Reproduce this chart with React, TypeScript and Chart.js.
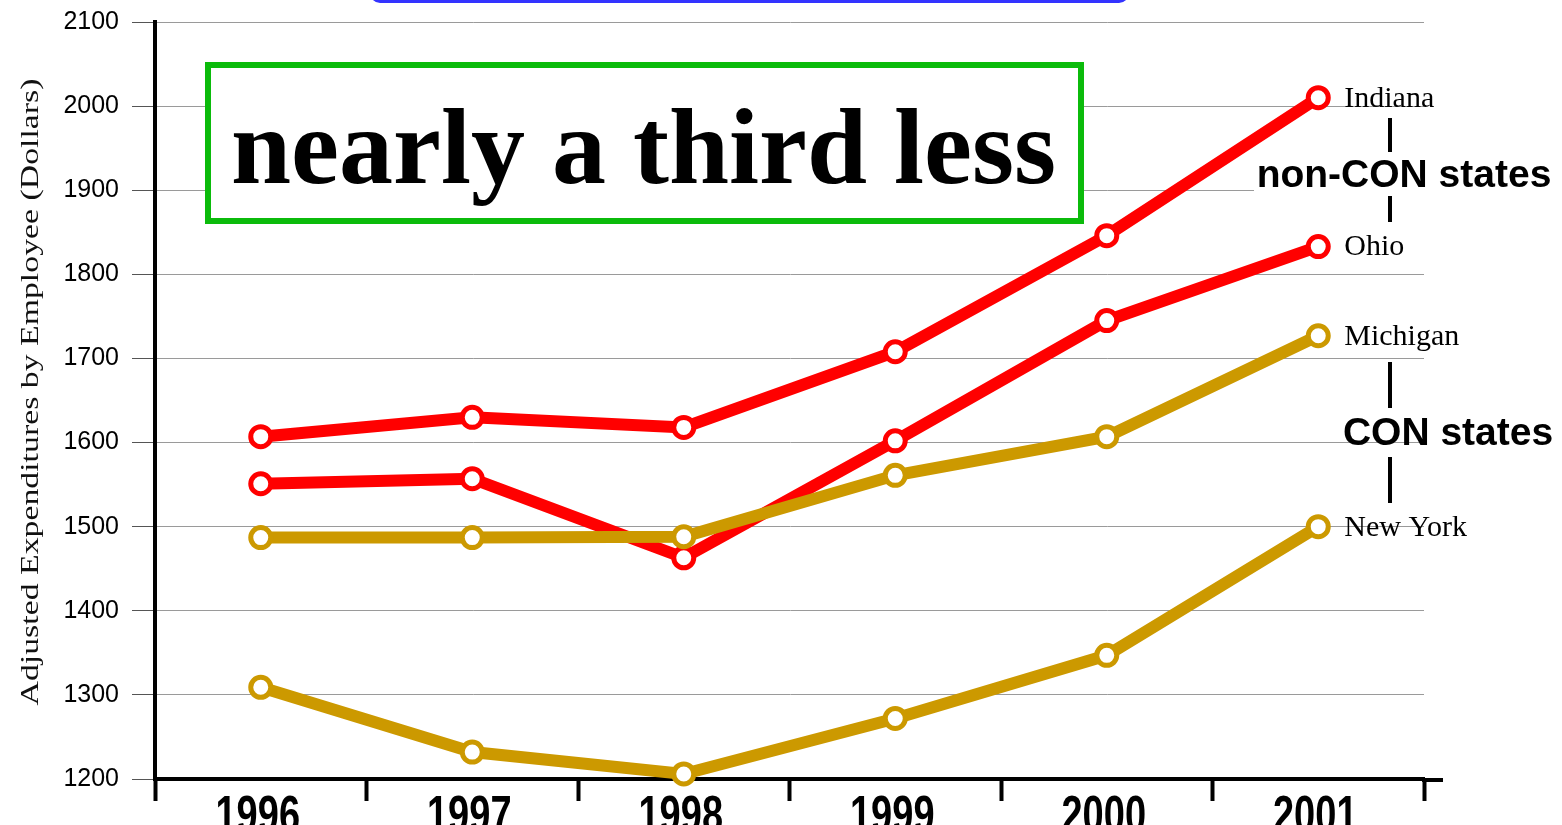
import React, { useEffect, useRef } from "react";
import { Chart, registerables } from "chart.js";

Chart.register(...registerables);

const years = ["1996", "1997", "1998", "1999", "2000", "2001"];
const indiana = [1607, 1630, 1618, 1708, 1846, 2010];
const ohio = [1551, 1557, 1463, 1602, 1745, 1833];
const michigan = [1487, 1487, 1488, 1561, 1607, 1727];
const newYork = [1309, 1232, 1206, 1272, 1347, 1500];
const seriesNames = ["Indiana", "Ohio", "Michigan", "New York"];
const yMin = 1200;
const yMax = 2100;
const yStep = 100;
const headline = "nearly a third less";
const yTitle = "Adjusted Expenditures by Employee (Dollars)";
const groupNonCon = "non-CON states";
const groupCon = "CON states";

const RED = "#FF0000";
const GOLD = "#CC9900";

const decorPlugin = {
  id: "decor",
  beforeDraw(chart: any) {
    const { ctx } = chart;
    ctx.save();
    ctx.fillStyle = "#ffffff";
    ctx.fillRect(0, 0, chart.width, chart.height);
    ctx.restore();
  },
  afterDatasetsDraw(chart: any) {
    const { ctx, scales } = chart;
    const x = scales.x;
    const y = scales.y;
    ctx.save();

    // blue box bottom edge at top
    ctx.strokeStyle = "#3333FF";
    ctx.lineWidth = 4;
    ctx.beginPath();
    (ctx as any).roundRect(372, -60, 755, 61, 8);
    ctx.stroke();

    // green headline box
    ctx.fillStyle = "#ffffff";
    ctx.fillRect(208, 65, 873, 156);
    ctx.strokeStyle = "#0BBB0B";
    ctx.lineWidth = 6;
    ctx.strokeRect(208, 65, 873, 156);
    ctx.fillStyle = "#000";
    ctx.font = "bold 108px 'Liberation Serif', 'Times New Roman', serif";
    ctx.textAlign = "left";
    ctx.textBaseline = "alphabetic";
    ctx.fillText(headline, 231, 183);

    // axis extension on the right
    ctx.strokeStyle = "#000";
    ctx.lineWidth = 4;
    ctx.beginPath();
    ctx.moveTo(chart.chartArea.right - 2, y.getPixelForValue(yMin) + 1);
    ctx.lineTo(1443, y.getPixelForValue(yMin) + 1);
    ctx.stroke();

    // x labels (condensed look)
    ctx.fillStyle = "#000";
    ctx.font = "bold 38px 'Liberation Sans', Arial, sans-serif";
    ctx.textAlign = "center";
    ctx.textBaseline = "alphabetic";
    years.forEach((yr, i) => {
      const px = x.getPixelForValue(i);
      ctx.save();
      ctx.translate(px - 3, 832);
      ctx.scale(1, 1.35);
      ctx.fillText(yr, 0, 0);
      ctx.restore();
    });

    // y title
    ctx.save();
    ctx.fillStyle = "#111";
    ctx.font = "26px 'Liberation Serif', 'Times New Roman', serif";
    ctx.textAlign = "center";
    ctx.textBaseline = "middle";
    ctx.translate(31, 392);
    ctx.rotate(-Math.PI / 2);
    ctx.scale(1.3, 1);
    ctx.fillText(yTitle, 0, 0);
    ctx.restore();

    // series end labels
    const last = years.length - 1;
    const ends = [indiana[last], ohio[last], michigan[last], newYork[last]];
    ctx.font = "30px 'Liberation Serif', 'Times New Roman', serif";
    ctx.textAlign = "left";
    ctx.textBaseline = "middle";
    ctx.fillStyle = "#000";
    const lx = x.getPixelForValue(last) + 26;
    seriesNames.forEach((nm, i) => {
      ctx.fillText(nm, lx, y.getPixelForValue(ends[i]) + 1);
    });

    // group labels and bars
    ctx.fillStyle = "#000";
    ctx.fillRect(1388, 118, 4, 34);
    ctx.fillRect(1388, 196, 4, 26);
    ctx.fillRect(1388, 362, 4, 46);
    ctx.fillRect(1388, 457, 4, 46);
    ctx.font = "bold 39px 'Liberation Sans', Arial, sans-serif";
    ctx.textAlign = "center";
    ctx.textBaseline = "middle";
    ctx.fillStyle = "#ffffff";
    ctx.fillRect(1254, 156, 302, 38);
    ctx.fillStyle = "#000";
    ctx.fillText(groupNonCon, 1404, 176);
    ctx.fillText(groupCon, 1448, 434);

    ctx.restore();
  },
};

function mkDataset(label: string, data: number[], color: string, order: number) {
  return {
    label,
    data,
    borderColor: color,
    backgroundColor: color,
    borderWidth: 12,
    pointRadius: 10,
    pointBorderWidth: 5,
    pointBackgroundColor: "#ffffff",
    pointBorderColor: color,
    tension: 0,
    clip: false as any,
    order,
  };
}

export default function App() {
  const ref = useRef<HTMLCanvasElement | null>(null);
  useEffect(() => {
    if (!ref.current) return;
    const chart = new Chart(ref.current, {
      type: "line",
      data: {
        labels: years,
        datasets: [
          mkDataset(seriesNames[0], indiana, RED, 3),
          mkDataset(seriesNames[1], ohio, RED, 2),
          mkDataset(seriesNames[2], michigan, GOLD, 1),
          mkDataset(seriesNames[3], newYork, GOLD, 0),
        ],
      },
      options: {
        responsive: false,
        animation: false,
        devicePixelRatio: 1,
        layout: { padding: { left: 0, right: 138, top: 22, bottom: 0 } },
        plugins: {
          legend: { display: false },
          tooltip: { enabled: false },
          title: { display: false },
        },
        scales: {
          x: {
            type: "category",
            offset: true,
            grid: {
              offset: true,
              drawOnChartArea: false,
              drawTicks: true,
              tickLength: 22,
              tickColor: "#000",
              tickWidth: 4,
              color: "#000",
            },
            border: { display: true, color: "#000", width: 4 },
            ticks: { color: "rgba(0,0,0,0)", font: { size: 20 } },
            afterFit: (s: any) => {
              s.height = 46;
              s.paddingLeft = 0;
              s.paddingRight = 0;
            },
          },
          y: {
            min: yMin,
            max: yMax,
            ticks: {
              stepSize: yStep,
              color: "#000",
              padding: 13,
              font: { size: 25, family: "'Liberation Sans', Arial, sans-serif" },
              callback: (v: any) => String(v),
            },
            grid: {
              color: "#9a9a9a",
              lineWidth: 1,
              tickLength: 23,
              tickColor: "#555",
            },
            border: { display: true, color: "#000", width: 4 },
            afterFit: (s: any) => {
              s.width = 155;
              s.paddingTop = 0;
              s.paddingBottom = 0;
            },
          },
        },
      },
      plugins: [decorPlugin],
    });
    return () => chart.destroy();
  }, []);
  return (
    <div style={{ position: "absolute", left: 0, top: 0, width: 1562, height: 825 }}>
      <canvas ref={ref} width={1562} height={825} />
    </div>
  );
}
